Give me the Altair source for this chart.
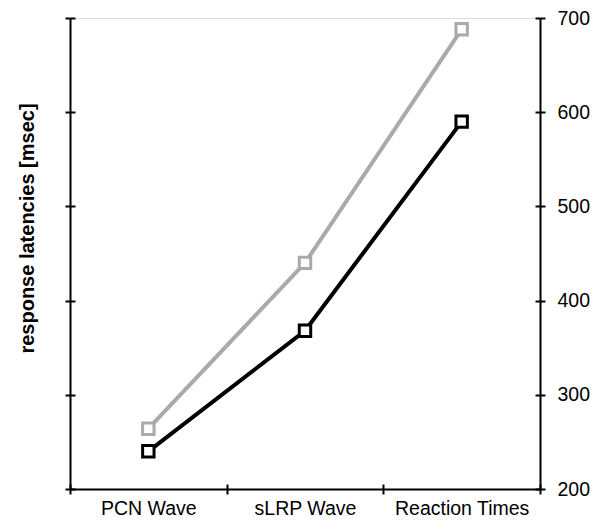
import altair as alt
import pandas as pd

categories = ["PCN Wave", "sLRP Wave", "Reaction Times"]
gray_values = [264, 440, 688]
black_values = [240, 368, 590]
series_names = ["gray", "black"]
series_colors = ["#aaaaaa", "#000000"]
y_ticks = [200, 300, 400, 500, 600, 700]

df = pd.DataFrame({
    "cat": categories * 2,
    "val": gray_values + black_values,
    "series": [series_names[0]] * 3 + [series_names[1]] * 3,
})

FONT = "Liberation Sans"
xscale = alt.Scale(type="band", domain=categories, paddingInner=0, paddingOuter=0)
yscale = alt.Scale(domain=[200, 700], nice=False, zero=False)
cscale = alt.Scale(domain=series_names, range=series_colors)

common_axis = dict(domainColor="black", tickColor="black", domainWidth=2, tickWidth=2,
                   grid=False, labelFont=FONT, labelFontSize=19.5, labelColor="black")

x_out = alt.Axis(orient="bottom", tickBand="extent", labelAngle=0, tickSize=5,
                 labelPadding=5, title=None, **common_axis)
x_in = alt.Axis(orient="bottom", tickBand="extent", offset=-5, tickSize=5, labels=False,
                domain=False, title=None, **common_axis)
y_left_out = alt.Axis(orient="left", values=y_ticks, labels=False, tickSize=5,
                      title="response latencies [msec]", titleFont=FONT, titleFontSize=20,
                      titleFontWeight="bold", titleColor="black", titleX=-33, titleY=210,
                      titleAngle=-90, titleAlign="center", **common_axis)
y_left_in = alt.Axis(orient="left", values=y_ticks, labels=False, tickSize=5, offset=-5,
                     domain=False, title=None, **common_axis)
y_right_out = alt.Axis(orient="right", values=y_ticks, tickSize=5, labelPadding=12,
                       title=None, **common_axis)
y_right_in = alt.Axis(orient="right", values=y_ticks, labels=False, tickSize=5, offset=-5,
                      domain=False, title=None, **common_axis)

base = alt.Chart(df)

lines = base.mark_line(strokeWidth=4).encode(
    x=alt.X("cat:N", scale=xscale, axis=x_out, sort=categories, bandPosition=0.5),
    y=alt.Y("val:Q", scale=yscale, axis=y_left_out),
    stroke=alt.Stroke("series:N", scale=cscale, legend=None),
    strokeWidth=alt.StrokeWidth("series:N", scale=alt.Scale(domain=series_names, range=[3, 4]), legend=None),
    detail="series:N",
)

points = base.mark_point(shape="square", size=130, strokeWidth=3, fill="white",
                         fillOpacity=1, opacity=1).encode(
    x=alt.X("cat:N", scale=xscale, axis=x_in, sort=categories, bandPosition=0.5),
    y=alt.Y("val:Q", scale=yscale, axis=y_right_out),
    stroke=alt.Stroke("series:N", scale=cscale, legend=None),
)

ghost1 = base.mark_point(opacity=0).encode(
    x=alt.X("cat:N", scale=xscale, axis=None, sort=categories, bandPosition=0.5),
    y=alt.Y("val:Q", scale=yscale, axis=y_left_in),
)
ghost2 = base.mark_point(opacity=0).encode(
    x=alt.X("cat:N", scale=xscale, axis=None, sort=categories, bandPosition=0.5),
    y=alt.Y("val:Q", scale=yscale, axis=y_right_in),
)

chart = alt.layer(ghost1, ghost2, lines, points).resolve_axis(
    x="independent", y="independent"
).properties(
    width=470, height=471,
    padding={"left": 62, "top": 10, "right": 55, "bottom": 32},
    autosize=alt.AutoSizeParams(type="none"),
).configure_view(stroke=None).configure(background="white")

chart.save("out.html", embed_options={"renderer": "svg", "actions": False})
